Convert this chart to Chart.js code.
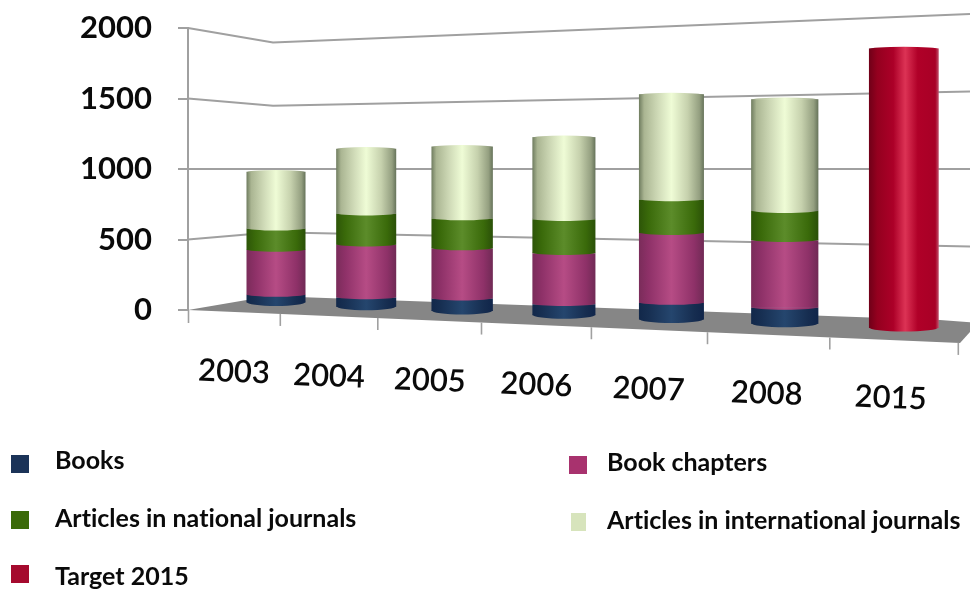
<!DOCTYPE html>
<html><head><meta charset="utf-8">
<style>html,body{margin:0;padding:0;background:#fff;overflow:hidden}canvas{display:block;filter:blur(0.5px)}</style>
<script src="https://cdn.jsdelivr.net/npm/chart.js@4"></script>
</head><body>
<canvas id="c" width="970" height="590"></canvas>
<script>
const years = ['2003','2004','2005','2006','2007','2008','2015'];
const yTicks = [0,500,1000,1500,2000];
const books = [60,73,95,85,124,120,null];
const bookChapters = [320,374,355,362,496,480,null];
const nationalArticles = [150,220,213,241,239,206,null];
const internationalArticles = [405,461,510,582,745,794,null];
const target2015 = [null,null,null,null,null,null,1990];
const seriesNames = ['Books','Book chapters','Articles in national journals','Articles in international journals','Target 2015'];

// the picture's 3-D view, as functions of the category index
const view = {
  barX: i => 276 + 87.3*i + 2.89*i*i,
  barW: i => 59 + 0.9*i + 0.15*i*i,
  drop: i => -6.5 + 4.25*i,
  tickX: k => 189 + 88.2*k + 3.1*k*k,
  labelX: i => 276 + 87.3*i + 2.89*i*i - 42 + 4.8*i,
  labelY: i => 372 + 4.33*i
};
const shades = [
  [[0,'#12284a'],[.15,'#172f52'],[.5,'#25466e'],[.85,'#162d50'],[1,'#10254a']],
  [[0,'#7a2c5a'],[.15,'#8e3168'],[.5,'#b64c85'],[.85,'#8e3168'],[1,'#702a55']],
  [[0,'#2d5508'],[.15,'#3a6a0a'],[.5,'#5c8c2a'],[.85,'#3a6a0a'],[1,'#2a5008']],
  [[0,'#6f7c5f'],[.08,'#aab592'],[.3,'#d0dbb8'],[.5,'#effcd6'],[.75,'#c6d1ad'],[.93,'#949f80'],[1,'#66735a']],
  [[0,'#700018'],[.12,'#94001f'],[.35,'#ac0028'],[.52,'#dc3355'],[.7,'#b00028'],[.95,'#a80026'],[1,'#c0506a']]
];
const legendColors = ['#1b3358','#a8326e','#3b6a08','#d7e4bc','#a50a2e'];
const legendPlace = [[11,55,455,461],[569,607,456,463],[11,55,511,519],[571,607,513,521],[11,55,565,577]];
const LINE = '#a0a0a0';

function cylinderFill(s){
  return ctx => {
    const i = ctx.dataIndex;
    if (i === undefined) return legendColors[s];
    const x = view.barX(i), w = view.barW(i);
    const g = ctx.chart.ctx.createLinearGradient(x-w/2,0,x+w/2,0);
    shades[s].forEach(p => g.addColorStop(p[0],p[1]));
    return g;
  };
}
const ds = (s,data) => ({label:seriesNames[s],data,backgroundColor:cylinderFill(s),borderWidth:0,stack:'a',clip:false});

const view3d = {
  id:'view3d',
  afterDatasetsUpdate(chart){
    chart.getSortedVisibleDatasetMetas().forEach(m => m.data.forEach((el,i) => {
      const d = view.drop(i);
      el.x = view.barX(i); el.width = view.barW(i);
      el.y += d; el.base += d;
    }));
  },
  beforeDatasetsDraw(chart){
    const c = chart.ctx, y = chart.scales.y;
    const y0 = y.getPixelForValue(0);
    const left = chart.chartArea.left;
    c.save();
    // walls
    c.strokeStyle = LINE; c.lineWidth = 2;
    yTicks.filter(v => v > 0).forEach(v => {
      const p = y.getPixelForValue(v), t = (v-1000)*0.0145;
      c.beginPath(); c.moveTo(left,p); c.lineTo(left+85,p+t); c.lineTo(970,p-(v-1000)*0.014); c.stroke();
    });
    // floor
    c.fillStyle = '#868686';
    c.beginPath(); c.moveTo(left,y0); c.lineTo(left+82,y0-14); c.lineTo(left+752,y0+10); c.lineTo(left+790,y0+13); c.lineTo(left+772,y0+33); c.closePath(); c.fill();
    // axis extension and ticks under the floor
    c.lineWidth = 1.6;
    c.beginPath(); c.moveTo(left+0.5,y0); c.lineTo(left+0.5,y0+13); c.stroke();
    for (let k=1;k<=years.length;k++){
      const x = view.tickX(k), t = y0 + (x-left)*33/772;
      c.beginPath(); c.moveTo(x,t); c.lineTo(x,t+12); c.stroke();
    }
    c.restore();
  },
  afterDatasetsDraw(chart){
    const c = chart.ctx;
    chart.data.datasets.forEach((set,s) => {
      chart.getDatasetMeta(s).data.forEach((el,i) => {
        if (set.data[i] === null) return;
        const bulge = (s === 0 || s === 4) ? 3.5 : 1.8;
        c.save();
        c.fillStyle = el.options.backgroundColor;
        c.beginPath(); c.ellipse(el.x,el.base-0.7,el.width/2,bulge+0.7,0,0,Math.PI); c.fill();
        if (s >= 3){ c.beginPath(); c.ellipse(el.x,el.y+0.7,el.width/2,2.3,0,Math.PI,2*Math.PI); c.fill(); }
        c.restore();
      });
    });
  },
  afterDraw(chart){
    const c = chart.ctx;
    c.save();
    c.fillStyle = '#0a0a0a'; c.textAlign='center'; c.textBaseline='middle';
    c.font = '600 31px Lato';
    years.forEach((t,i) => {
      c.save(); c.translate(view.labelX(i),view.labelY(i)); c.rotate(2.2*Math.PI/180);
      c.fillText(t,0,0); c.restore();
    });
    c.textAlign='left'; c.font='bold 25px Lato'; c.textRendering='optimizeSpeed';
    seriesNames.forEach((t,s) => {
      const [mx,tx,my,ty] = legendPlace[s];
      c.fillStyle = legendColors[s]; c.fillRect(mx,my,s===3?15:18,18);
      c.fillStyle = '#0a0a0a'; c.fillText(t,tx,ty);
    });
    c.restore();
  }
};

new Chart(document.getElementById('c'),{
  type:'bar',
  data:{labels:years,datasets:[ds(0,books),ds(1,bookChapters),ds(2,nationalArticles),ds(3,internationalArticles),ds(4,target2015)]},
  options:{
    responsive:false,animation:false,
    layout:{padding:{top:28,bottom:280,left:0,right:0}},
    plugins:{legend:{display:false},tooltip:{enabled:false}},
    scales:{
      x:{display:false,stacked:true},
      y:{stacked:true,min:0,max:2000,
        afterFit(s){s.width=188;s.paddingTop=0;s.paddingBottom=0;},
        border:{color:LINE,width:2},
        grid:{drawOnChartArea:false,tickLength:10,color:LINE,lineWidth:2},
        ticks:{stepSize:500,padding:26,color:'#0a0a0a',font:{family:'Lato',weight:'bold',size:31},callback:v=>String(v)}
      }
    }
  },
  plugins:[view3d]
});
</script>
</body></html>
